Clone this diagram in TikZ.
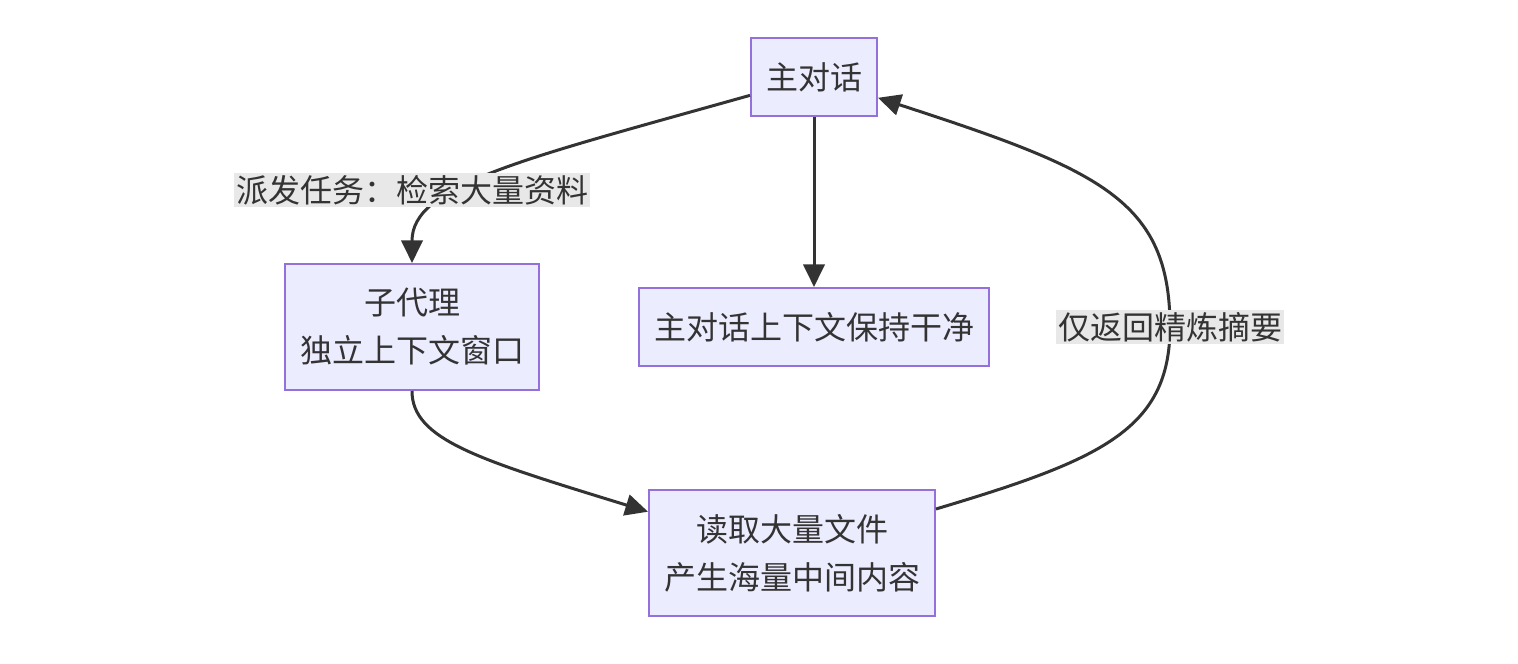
\documentclass[tikz,border=0pt]{standalone}
\usepackage{fontspec}
\setmainfont{Noto Sans CJK SC}
\usetikzlibrary{arrows.meta}
\definecolor{boxfill}{HTML}{ECECFF}
\definecolor{boxline}{HTML}{9370DB}
\definecolor{txt}{HTML}{333333}
\definecolor{lblbg}{HTML}{E8E8E8}
\tikzset{
  box/.style={draw=boxline, fill=boxfill, line width=1.5pt, inner sep=0pt, text=txt,
    font=\fontsize{24pt}{36pt}\selectfont, align=center},
  edge/.style={draw=txt, line width=2.25pt, -{Triangle[length=17pt,width=16pt]}},
  lbl/.style={fill=lblbg, text=txt, inner sep=1.5pt, font=\fontsize{24pt}{28pt}\selectfont}
}
\begin{document}
\begin{tikzpicture}[x=0.75pt,y=-0.75pt]
\useasboundingbox (0,0) rectangle (1518,664);
\node[box, minimum width=126*0.75pt, minimum height=78*0.75pt] (A) at (814,77) {主对话};
\node[box, minimum width=254*0.75pt, minimum height=126*0.75pt] (B) at (412,327) {子代理\\独立上下文窗口};
\node[box, minimum width=350*0.75pt, minimum height=78*0.75pt] (C) at (814,327) {主对话上下文保持干净};
\node[box, minimum width=286*0.75pt, minimum height=126*0.75pt] (D) at (792,553) {读取大量文件\\产生海量中间内容};
\coordinate (L1) at (412,190);
\coordinate (L2) at (1170,327);
\draw[edge] (A.196) .. controls (520,160) and (412,185) .. (B.north);
\draw[edge] (A.south) -- (C.north);
\draw[edge] (B.south) .. controls (412,440) and (480,460) .. (D.164);
\draw[edge] (D.17) .. controls (1100,460) and (1170,430) .. (L2) .. controls (1170,200) and (1100,170) .. (A.342);
\node[lbl] (T1) at (L1) {派发任务：检索大量资料};
\node[lbl] (T2) at (L2) {仅返回精炼摘要};
\end{tikzpicture}
\end{document}
